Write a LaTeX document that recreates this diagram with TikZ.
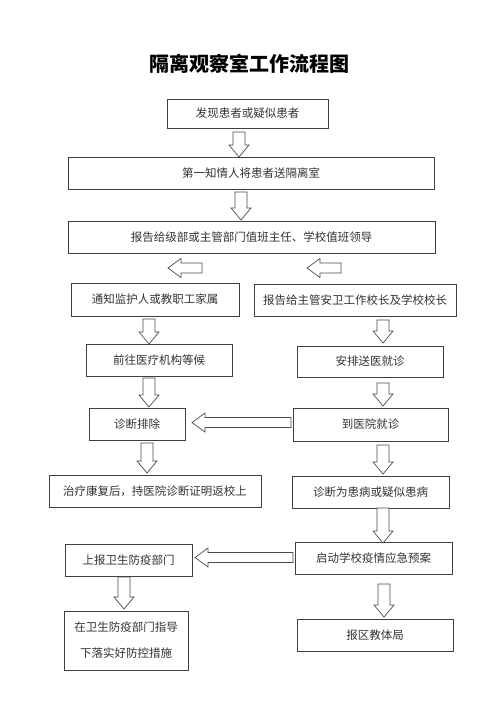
\documentclass[tikz,border=0pt]{standalone}
\usepackage{fontspec}
\setmainfont{Noto Sans CJK SC}
\tikzset{
  box/.style={draw=black!75, line width=0.7pt, inner sep=0pt, align=center,
    font=\fontsize{11.5}{26}\selectfont, text=black!80},
  barrow/.style={draw=black!70, line width=0.7pt, fill=white, line join=miter},
  titlestyle/.style={inner sep=0pt, font=\fontsize{20}{24}\selectfont\bfseries, text=black}
}
\newcommand\arrD[3]{\draw[barrow] ({#1-6},#2) -- ({#1+6},#2) -- ({#1+6},{#3-12}) -- ({#1+10},{#3-12}) -- (#1,#3) -- ({#1-10},{#3-12}) -- ({#1-6},{#3-12}) -- cycle;}
\newcommand\arrL[3]{\draw[barrow] (#1,#3) -- ({#1+13},{#3-9.5}) -- ({#1+13},{#3-5}) -- (#2,{#3-5}) -- (#2,{#3+5}) -- ({#1+13},{#3+5}) -- ({#1+13},{#3+9.5}) -- cycle;}
\begin{document}
\begin{tikzpicture}[x=1pt,y=-1pt]
\useasboundingbox[fill=white] (0,0) rectangle (500,707);
\node[titlestyle] (title) at (249,64) {隔离观察室工作流程图};
\node[box, minimum width=161, minimum height=29] (b1) at (247.5,113.5) {发现患者或疑似患者};
\node[box, minimum width=366, minimum height=32] (b2) at (251,173) {第一知情人将患者送隔离室};
\node[box, minimum width=367, minimum height=32] (b3) at (251.5,237) {报告给级部或主管部门值班主任、学校值班领导};
\node[box, minimum width=168, minimum height=33] (b4) at (155,299.5) {通知监护人或教职工家属};
\node[box, minimum width=202, minimum height=32] (b5) at (355,300) {报告给主管安卫工作校长及学校校长};
\node[box, minimum width=146, minimum height=32] (b6) at (159,360) {前往医疗机构等候};
\node[box, minimum width=146, minimum height=31] (b7) at (370,361.5) {安排送医就诊};
\node[box, minimum width=96, minimum height=32] (b8) at (137,424) {诊断排除};
\node[box, minimum width=155, minimum height=33] (b9) at (370.5,424.5) {到医院就诊};
\node[box, minimum width=212, minimum height=32] (b10) at (155,491) {治疗康复后，持医院诊断证明返校上};
\node[box, minimum width=157, minimum height=32] (b11) at (370.5,492) {诊断为患病或疑似患病};
\node[box, minimum width=127, minimum height=32] (b12) at (128.5,560) {上报卫生防疫部门};
\node[box, minimum width=157, minimum height=32] (b13) at (373.5,558) {启动学校疫情应急预案};
\node[box, minimum width=124, minimum height=59] (b14) at (126,640.5) {在卫生防疫部门指导\\下落实好防控措施};
\node[box, minimum width=156, minimum height=32] (b15) at (375,635) {报区教体局};
% down block arrows
\arrD{239}{132}{157}
\arrD{241}{192}{220}
\arrD{149}{319}{344}
\arrD{383}{320}{343}
\arrD{149}{378}{407}
\arrD{383}{383}{406}
\arrD{147}{443}{473}
\arrD{383}{445}{474}
\arrD{383}{508}{543}
\arrD{124}{577}{609}
\arrD{384}{584}{617}
% left block arrows
\arrL{168}{202}{268}
\arrL{307}{341}{268}
\arrL{192}{291}{422.5}
\arrL{195}{293}{557.5}
\end{tikzpicture}
\end{document}
